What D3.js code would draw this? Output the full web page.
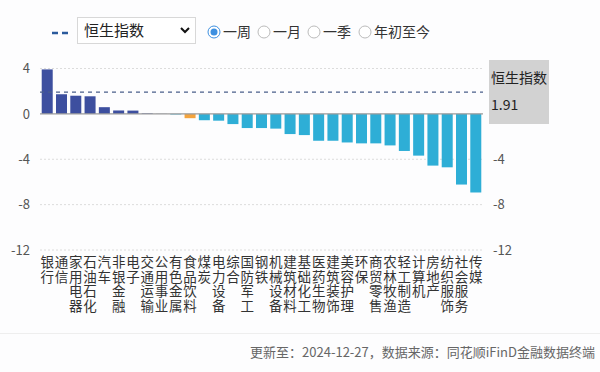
<!DOCTYPE html>
<html>
<head>
<meta charset="utf-8">
<script src="https://cdn.jsdelivr.net/npm/d3@7"></script>
<style>
  body { margin: 0; background: #fdfdfe; font-family: "Noto Sans CJK SC", sans-serif; }
  svg { display: block; }
</style>
</head>
<body>
<svg></svg>
<script>
const width = 600;
const height = 372;

// 申万一级行业，近一周涨跌幅（%）
const industries = ["银行","通信","家用电器","石油石化","汽车","非银金融","电子","交通运输","公用事业","有色金属",
  "食品饮料","煤炭","电力设备","综合","国防军工","钢铁","机械设备","建筑材料","基础化工","医药生物",
  "建筑装饰","美容护理","环保","商贸零售","农林牧渔","轻工制造","计算机","房地产","纺织服饰","社会服务","传媒"];
const weekChange = [3.92, 1.73, 1.6, 1.55, 0.59, 0.3, 0.29, 0.05, 0.01, -0.05,
  -0.38, -0.56, -0.6, -0.9, -1.25, -1.25, -1.3, -1.78, -1.87, -2.37,
  -2.37, -2.52, -2.6, -2.6, -2.78, -3.27, -3.68, -4.56, -4.71, -6.23, -6.93];
const highlight = "食品饮料";
const indexName = "恒生指数";
const indexValue = 1.91;
const yTicks = [4, 0, -4, -8, -12];
const periods = ["一周", "一月", "一季", "年初至今"];

const svg = d3.select("svg")
  .attr("width", width)
  .attr("height", height);

const xScale = d3.scaleBand()
  .domain(industries)
  .range([40, 483])
  .paddingInner(0.23)
  .paddingOuter(0.12);

const yScale = d3.scaleLinear()
  .domain([-12, 4])
  .range([250, 68.5]);

// grid
svg.append("g")
  .selectAll("line")
  .data(yTicks.filter(d => d !== 0))
  .enter()
  .append("line")
    .attr("x1", 40)
    .attr("x2", 483)
    .attr("y1", d => yScale(d))
    .attr("y2", d => yScale(d))
    .attr("stroke", "#dcdcdc")
    .attr("stroke-dasharray", "2,2");

// left axis labels
svg.append("g")
  .selectAll("text")
  .data(yTicks)
  .enter()
  .append("text")
    .attr("x", 30)
    .attr("y", d => yScale(d))
    .attr("dy", "0.36em")
    .attr("text-anchor", "end")
    .attr("fill", "#555")
    .style("font-size", "13px")
    .text(d => d);

// right axis labels (the upper ones sit under the index tag)
svg.append("g")
  .selectAll("text")
  .data(yTicks.filter(d => d < 0))
  .enter()
  .append("text")
    .attr("x", 493)
    .attr("y", d => yScale(d))
    .attr("dy", "0.36em")
    .attr("fill", "#555")
    .style("font-size", "13px")
    .text(d => d);

// bars
svg.append("g")
  .selectAll("rect")
  .data(industries)
  .enter()
  .append("rect")
    .attr("x", d => xScale(d))
    .attr("width", xScale.bandwidth())
    .attr("y", (d, i) => yScale(Math.max(0, weekChange[i])))
    .attr("height", (d, i) => Math.abs(yScale(weekChange[i]) - yScale(0)))
    .attr("fill", (d, i) => d === highlight ? "#f4a43e" : (weekChange[i] >= 0 ? "#3d4f9f" : "#2eaed6"));

// zero line
svg.append("line")
  .attr("x1", 40)
  .attr("x2", 483)
  .attr("y1", yScale(0))
  .attr("y2", yScale(0))
  .attr("stroke", "#9a9a9a")
  .attr("stroke-width", 1.2);

// index line
svg.append("line")
  .attr("x1", 40)
  .attr("x2", 483)
  .attr("y1", yScale(indexValue))
  .attr("y2", yScale(indexValue))
  .attr("stroke", "#4a5f8a")
  .attr("stroke-width", 1.2)
  .attr("stroke-dasharray", "4,4");

// vertical category labels
const labels = svg.append("g")
  .selectAll("text")
  .data(industries)
  .enter()
  .append("text")
    .attr("fill", "#333")
    .attr("text-anchor", "middle")
    .style("font-size", "13.5px");

labels.selectAll("tspan")
  .data(d => d.split("").map(c => ({c, x: xScale(d) + xScale.bandwidth() / 2})))
  .enter()
  .append("tspan")
    .attr("x", d => d.x)
    .attr("y", (d, i) => 267 + i * 14.6)
    .text(d => d.c);

// index tag
svg.append("rect")
  .attr("x", 489)
  .attr("y", 60)
  .attr("width", 60)
  .attr("height", 64)
  .attr("fill", "#d2d2d2");

svg.append("text")
  .attr("x", 491)
  .attr("y", 83)
  .attr("fill", "#222")
  .style("font-size", "14px")
  .text(indexName);

svg.append("text")
  .attr("x", 491)
  .attr("y", 110)
  .attr("fill", "#222")
  .style("font-size", "14px")
  .text(indexValue.toFixed(2));

// header: legend mark
svg.append("line")
  .attr("x1", 52)
  .attr("x2", 69)
  .attr("y1", 33)
  .attr("y2", 33)
  .attr("stroke", "#2a5a9c")
  .attr("stroke-width", 2.5)
  .attr("stroke-dasharray", "6,4");

// select box
svg.append("rect")
  .attr("x", 77.5)
  .attr("y", 17.5)
  .attr("width", 118)
  .attr("height", 26)
  .attr("fill", "#fff")
  .attr("stroke", "#d8d8d8");

svg.append("text")
  .attr("x", 84)
  .attr("y", 36)
  .attr("fill", "#222")
  .style("font-size", "15px")
  .text(indexName);

svg.append("path")
  .attr("d", "M181,28 L185,32 L189,28")
  .attr("fill", "none")
  .attr("stroke", "#111")
  .attr("stroke-width", 2);

// period radios
const radioX = [214, 264, 314, 365];
const radios = svg.append("g")
  .selectAll("g")
  .data(periods)
  .enter()
  .append("g")
    .attr("transform", (d, i) => `translate(${radioX[i]},32)`);

radios.append("circle")
  .attr("r", 6)
  .attr("fill", "#fff")
  .attr("stroke", (d, i) => i === 0 ? "#3d8fe0" : "#bbb");

radios.filter((d, i) => i === 0)
  .append("circle")
    .attr("r", 3.5)
    .attr("fill", "#3d8fe0");

radios.append("text")
  .attr("x", 9)
  .attr("dy", "0.36em")
  .attr("fill", "#333")
  .style("font-size", "14px")
  .text(d => d);

// footer
svg.append("line")
  .attr("x1", 0)
  .attr("x2", width)
  .attr("y1", 333.5)
  .attr("y2", 333.5)
  .attr("stroke", "#eeeeee");

svg.append("text")
  .attr("x", 595)
  .attr("y", 357)
  .attr("text-anchor", "end")
  .attr("fill", "#666")
  .style("font-size", "13px")
  .text("更新至：2024-12-27，数据来源：同花顺iFinD金融数据终端");
</script>
</body>
</html>
